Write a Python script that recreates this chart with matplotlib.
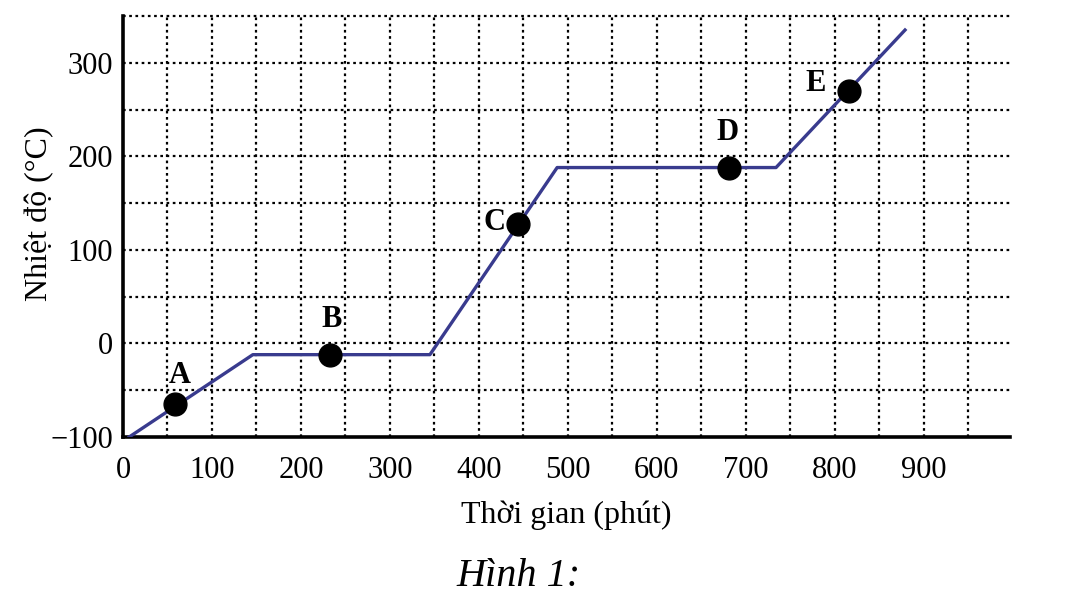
import matplotlib
matplotlib.use("Agg")
import matplotlib.pyplot as plt

# heating curve (time in minutes, temperature in degC)
time_min = [7, 146, 345, 488, 734, 879]
temp_c = [-100, -12, -12, 188, 188, 335]

pt_names = ["A", "B", "C", "D", "E"]
pt_time = [58, 233, 444, 681, 816]
pt_temp = [-65, -12, 128, 188, 270]
# label offsets in points (dx, dy)
lbl_off = [(4, 21), (1, 25), (-17, 1), (-1, 25), (-24, 5)]

xticks = [0, 100, 200, 300, 400, 500, 600, 700, 800, 900]
yticks = [-100, 0, 100, 200, 300]
ytick_labels = ["\u2212100", "0", "100", "200", "300"]

plt.rcParams["font.family"] = ["Liberation Serif", "DejaVu Serif"]

fig = plt.figure(figsize=(10.73, 6.01), dpi=100)
ax = fig.add_axes([0.1146, 0.2729, 0.8267, 0.7005])

ax.set_xlim(0, 997)
ax.set_ylim(-100, 350)

# dotted grid every 50 units
for gx in range(50, 951, 50):
    ax.axvline(gx, color="black", ls=(0, (1.2, 1.6)), lw=1.6, zorder=1)
for gy in range(-50, 351, 50):
    ax.axhline(gy, color="black", ls=(0, (1.2, 1.6)), lw=1.6, zorder=1,
               clip_on=False)

ax.plot(time_min, temp_c, color="#393b8e", lw=2.4, zorder=3)
ax.scatter(pt_time, pt_temp, s=270, color="black", zorder=4)
for n, tx, ty, off in zip(pt_names, pt_time, pt_temp, lbl_off):
    ax.annotate(n, (tx, ty), xytext=off, textcoords="offset points",
                ha="center", va="center", fontsize=22, fontweight="bold")

ax.set_xticks(xticks)
ax.set_yticks(yticks)
ax.set_yticklabels(ytick_labels)
ax.tick_params(length=0, labelsize=22, pad=7)
ax.tick_params(axis="x", pad=14)

for s in ["top", "right"]:
    ax.spines[s].set_visible(False)
for s in ["left", "bottom"]:
    ax.spines[s].set_linewidth(2.6)

ax.set_xlabel("Thời gian (phút)", fontsize=23, labelpad=11)
ax.set_ylabel("Nhiệt độ (°C)", fontsize=23)
ax.yaxis.set_label_coords(-0.078, 0.53)

fig.text(0.483, 0.025, "Hình 1:", fontsize=29, style="italic", ha="center")

fig.savefig("out.png", dpi=100)
